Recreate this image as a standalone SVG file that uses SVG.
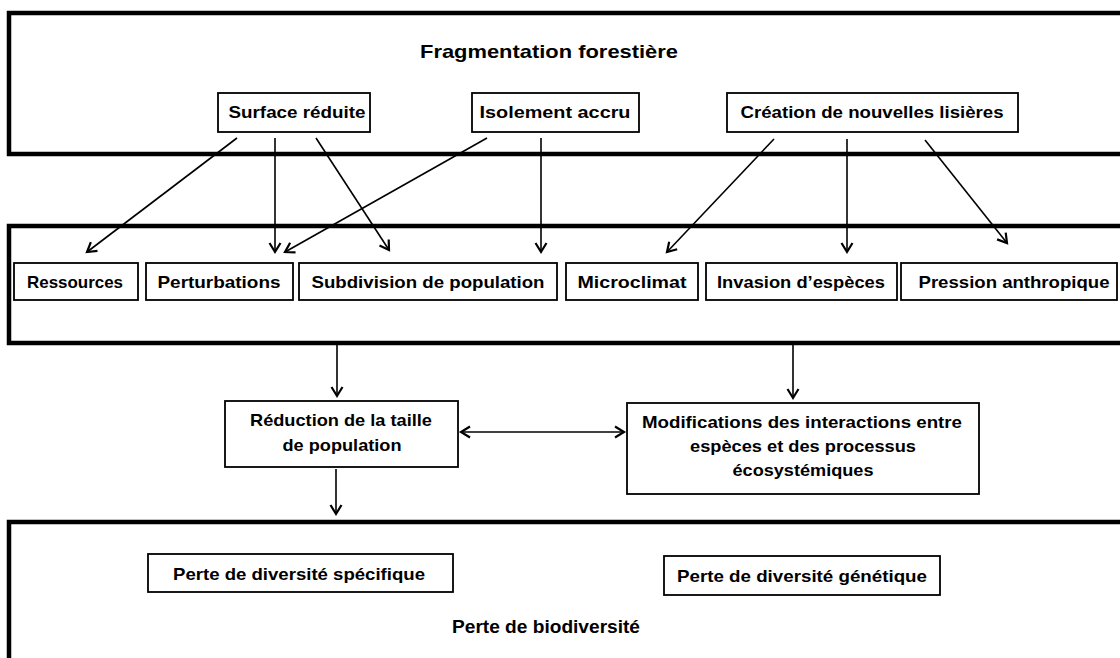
<svg xmlns="http://www.w3.org/2000/svg" width="1120" height="658" viewBox="0 0 1120 658">
<defs>
<style>
.frame{fill:none;stroke:#000;stroke-width:4.5}
.box{fill:#fff;stroke:#000;stroke-width:1.8}
.t{font-family:"Liberation Sans",Arial,sans-serif;font-weight:bold;font-size:17px;fill:#000;text-anchor:middle}
.big{font-size:19px}
.c{fill:none;stroke:#000;stroke-width:1.6}
</style>
<marker id="ah" markerUnits="userSpaceOnUse" markerWidth="20" markerHeight="20" viewBox="-12 -10 14 20" refX="0" refY="0" orient="auto-start-reverse">
<path d="M-9,-5.5 L0,0 L-9,5.5" fill="none" stroke="#000" stroke-width="2.2"/>
</marker>
</defs>
<rect width="1120" height="658" fill="#fff"/>

<g id="frame-fragmentation">
<rect class="frame" x="9" y="13" width="1130" height="141"/>
<text class="t big" x="549" y="58" textLength="258" lengthAdjust="spacingAndGlyphs">Fragmentation forestière</text>
</g>
<g id="surface">
<rect class="box" x="218" y="93" width="152" height="39"/>
<text class="t" x="297" y="118" textLength="137" lengthAdjust="spacingAndGlyphs">Surface réduite</text>
</g>
<g id="isolement">
<rect class="box" x="472" y="93" width="167" height="39"/>
<text class="t" x="555" y="118" textLength="151" lengthAdjust="spacingAndGlyphs">Isolement accru</text>
</g>
<g id="creation">
<rect class="box" x="727" y="93" width="291" height="39"/>
<text class="t" x="872" y="118" textLength="263" lengthAdjust="spacingAndGlyphs">Création de nouvelles lisières</text>
</g>

<g id="frame-effets">
<rect class="frame" x="9" y="226" width="1130" height="117"/>
</g>
<g id="ressources">
<rect class="box" x="14" y="263" width="124" height="37"/>
<text class="t" x="75" y="288" textLength="96" lengthAdjust="spacingAndGlyphs">Ressources</text>
</g>
<g id="perturbations">
<rect class="box" x="146" y="263" width="147" height="37"/>
<text class="t" x="219" y="288" textLength="123" lengthAdjust="spacingAndGlyphs">Perturbations</text>
</g>
<g id="subdivision">
<rect class="box" x="299" y="263" width="258" height="37"/>
<text class="t" x="428" y="288" textLength="233" lengthAdjust="spacingAndGlyphs">Subdivision de population</text>
</g>
<g id="microclimat">
<rect class="box" x="566" y="263" width="132" height="37"/>
<text class="t" x="632" y="288" textLength="109" lengthAdjust="spacingAndGlyphs">Microclimat</text>
</g>
<g id="invasion">
<rect class="box" x="706" y="263" width="191" height="37"/>
<text class="t" x="801" y="288" textLength="168" lengthAdjust="spacingAndGlyphs">Invasion d’espèces</text>
</g>
<g id="pression">
<rect class="box" x="901" y="263" width="216" height="37"/>
<text class="t" x="1014" y="288" textLength="191" lengthAdjust="spacingAndGlyphs">Pression anthropique</text>
</g>

<g id="reduction">
<rect class="box" x="225" y="401" width="233" height="66"/>
<text class="t" x="341" y="426" textLength="182" lengthAdjust="spacingAndGlyphs">Réduction de la taille</text>
<text class="t" x="342" y="451" textLength="119" lengthAdjust="spacingAndGlyphs">de population</text>
</g>
<g id="modifications">
<rect class="box" x="627" y="403" width="352" height="91"/>
<text class="t" x="802" y="428" textLength="320" lengthAdjust="spacingAndGlyphs">Modifications des interactions entre</text>
<text class="t" x="803" y="452" textLength="226" lengthAdjust="spacingAndGlyphs">espèces et des processus</text>
<text class="t" x="803" y="476" textLength="141" lengthAdjust="spacingAndGlyphs">écosystémiques</text>
</g>

<g id="frame-biodiversite">
<rect class="frame" x="9" y="522" width="1130" height="160"/>
<text class="t big" x="546" y="633" textLength="188" lengthAdjust="spacingAndGlyphs">Perte de biodiversité</text>
</g>
<g id="specifique">
<rect class="box" x="148" y="554" width="305" height="38"/>
<text class="t" x="299" y="580" textLength="252" lengthAdjust="spacingAndGlyphs">Perte de diversité spécifique</text>
</g>
<g id="genetique">
<rect class="box" x="664" y="556" width="276" height="39"/>
<text class="t" x="802" y="582" textLength="250" lengthAdjust="spacingAndGlyphs">Perte de diversité génétique</text>
</g>

<g id="connectors">
<line class="c" x1="237" y1="138" x2="87" y2="252" marker-end="url(#ah)"/>
<line class="c" x1="275" y1="138" x2="275" y2="252" marker-end="url(#ah)"/>
<line class="c" x1="316" y1="138" x2="389" y2="250" marker-end="url(#ah)"/>
<line class="c" x1="487" y1="138" x2="285" y2="252" marker-end="url(#ah)"/>
<line class="c" x1="541" y1="138" x2="541" y2="252" marker-end="url(#ah)"/>
<line class="c" x1="774" y1="139" x2="667" y2="252" marker-end="url(#ah)"/>
<line class="c" x1="847" y1="139" x2="847" y2="252" marker-end="url(#ah)"/>
<line class="c" x1="925" y1="140" x2="1007" y2="243" marker-end="url(#ah)"/>
<line class="c" x1="337" y1="345" x2="337" y2="396" marker-end="url(#ah)"/>
<line class="c" x1="793" y1="345" x2="793" y2="398" marker-end="url(#ah)"/>
<line class="c" x1="461" y1="432" x2="624" y2="432" marker-start="url(#ah)" marker-end="url(#ah)"/>
<line class="c" x1="336" y1="469" x2="336" y2="514" marker-end="url(#ah)"/>
</g>
</svg>
